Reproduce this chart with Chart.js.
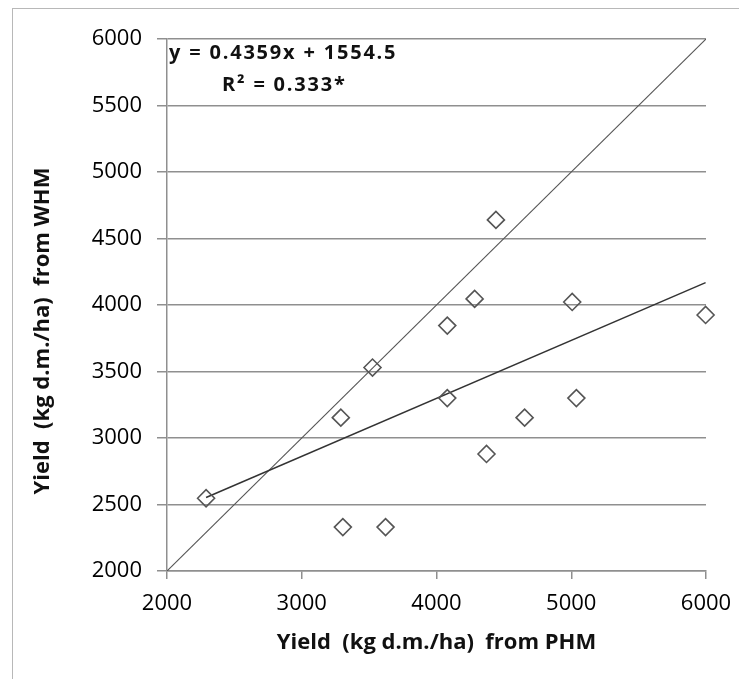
<!DOCTYPE html>
<html>
<head>
<meta charset="utf-8">
<script src="https://cdn.jsdelivr.net/npm/chart.js@4.4.1/dist/chart.umd.min.js"></script>
<style>
html,body{margin:0;padding:0;background:#fff;overflow:hidden;}
#wrap{position:relative;width:739px;height:679px;overflow:hidden;}
#frame{position:absolute;left:12px;top:8px;width:780px;height:720px;border:1px solid #b8b8b8;box-sizing:border-box;}
canvas{position:absolute;left:0;top:0;}
</style>
</head>
<body>
<div id="wrap"><div id="frame"></div><canvas id="c" width="739" height="679"></canvas></div>
<script>
// ---- data ----
const yieldPHM = [2290, 3305, 3622, 3290, 3525, 4080, 4080, 4283, 4441, 4371, 4654, 5007, 5038, 5997];
const yieldWHM = [2547, 2330, 2330, 3153, 3530, 3845, 3300, 4046, 4640, 2880, 3153, 4023, 3300, 3925];
const xTicks = [2000, 3000, 4000, 5000, 6000];
const yTicks = [2000, 2500, 3000, 3500, 4000, 4500, 5000, 5500, 6000];
const trendSlope = 0.4359;
const trendIntercept = 1554.5;
const oneToOne = [2000, 6000];
const equationLine = 'y = 0.4359x + 1554.5';
const r2Line = 'R\u00B2 = 0.333*';
const xTitle = 'Yield  (kg d.m./ha)  from PHM';
const yTitle = 'Yield  (kg d.m./ha)  from WHM';

// ---- derived ----
const points = yieldPHM.map((x, i) => ({x: x, y: yieldWHM[i]}));
const xMinData = Math.min(...yieldPHM), xMaxData = Math.max(...yieldPHM);
const trendPts = [xMinData, xMaxData].map(x => ({x: x, y: trendSlope * x + trendIntercept}));
const onePts = oneToOne.map(v => ({x: v, y: v}));

const GRID = '#8f8f8f';
const FONT = 'Open Sans';

const textPlugin = {
  id: 'texts',
  afterDraw(chart) {
    const ctx = chart.ctx;
    const xs = chart.scales.x, ys = chart.scales.y;
    ctx.save();
    ctx.fillStyle = '#111';
    ctx.font = 'bold 20px "' + FONT + '"';
    try { ctx.letterSpacing = '1.8px'; } catch (e) {}
    ctx.textBaseline = 'middle';
    ctx.textAlign = 'left';
    const x0 = xs.getPixelForValue(xTicks[0]);
    const y0 = ys.getPixelForValue(yTicks[yTicks.length - 1]);
    ctx.fillText(equationLine, x0 + 2, y0 + 14);
    ctx.fillText(r2Line, x0 + 55, y0 + 46);
    try { ctx.letterSpacing = '0px'; } catch (e) {}
    // y axis title
    ctx.font = 'bold 22px "' + FONT + '"';
    ctx.textAlign = 'center';
    ctx.translate(43, (chart.chartArea.top + chart.chartArea.bottom) / 2 + 26);
    ctx.rotate(-Math.PI / 2);
    ctx.fillText(yTitle, 0, 0);
    ctx.restore();
  }
};

const plainNum = v => String(v);

new Chart(document.getElementById('c').getContext('2d'), {
  type: 'scatter',
  data: {
    datasets: [
      {
        label: 'data', data: points, order: 1, clip: false,
        pointStyle: 'rectRot', pointRadius: 8.5, pointBorderWidth: 1.6,
        borderColor: '#555', backgroundColor: 'rgba(0,0,0,0)'
      },
      {
        type: 'line', label: 'trend', data: trendPts, order: 2,
        borderColor: '#333', borderWidth: 1.5, pointRadius: 0, fill: false
      },
      {
        type: 'line', label: '1:1', data: onePts, order: 3,
        borderColor: '#555', borderWidth: 1.1, pointRadius: 0, fill: false
      }
    ]
  },
  options: {
    responsive: false,
    animation: false,
    events: [],
    layout: {padding: {left: 0, top: 39, right: 33, bottom: 0}},
    plugins: {legend: {display: false}, tooltip: {enabled: false}},
    scales: {
      x: {
        type: 'linear', min: 2000, max: 6000,
        afterBuildTicks: a => { a.ticks = xTicks.map(v => ({value: v})); },
        grid: {drawOnChartArea: false, drawTicks: true, tickLength: 8, color: GRID, lineWidth: 1.5},
        border: {color: GRID, width: 1.5},
        ticks: {font: {family: FONT, size: 22}, color: '#000', padding: 12, maxRotation: 0, autoSkip: false, callback: plainNum},
        title: {display: true, text: xTitle, font: {family: FONT, size: 22, weight: 'bold'}, color: '#111', padding: {top: 0, bottom: 23}},
        afterFit: a => { a.height = 108; a.paddingLeft = 0; a.paddingRight = 0; }
      },
      y: {
        type: 'linear', min: 2000, max: 6000,
        afterBuildTicks: a => { a.ticks = yTicks.map(v => ({value: v})); },
        grid: {drawOnChartArea: true, drawTicks: true, tickLength: 10, color: GRID, lineWidth: 1.5},
        border: {color: GRID, width: 1.5},
        ticks: {font: {family: FONT, size: 22}, color: '#000', padding: 15, autoSkip: false, callback: plainNum},
        title: {display: false},
        afterFit: a => { a.width = 167; a.paddingTop = 0; a.paddingBottom = 0; }
      }
    }
  },
  plugins: [textPlugin]
});
</script>
</body>
</html>
